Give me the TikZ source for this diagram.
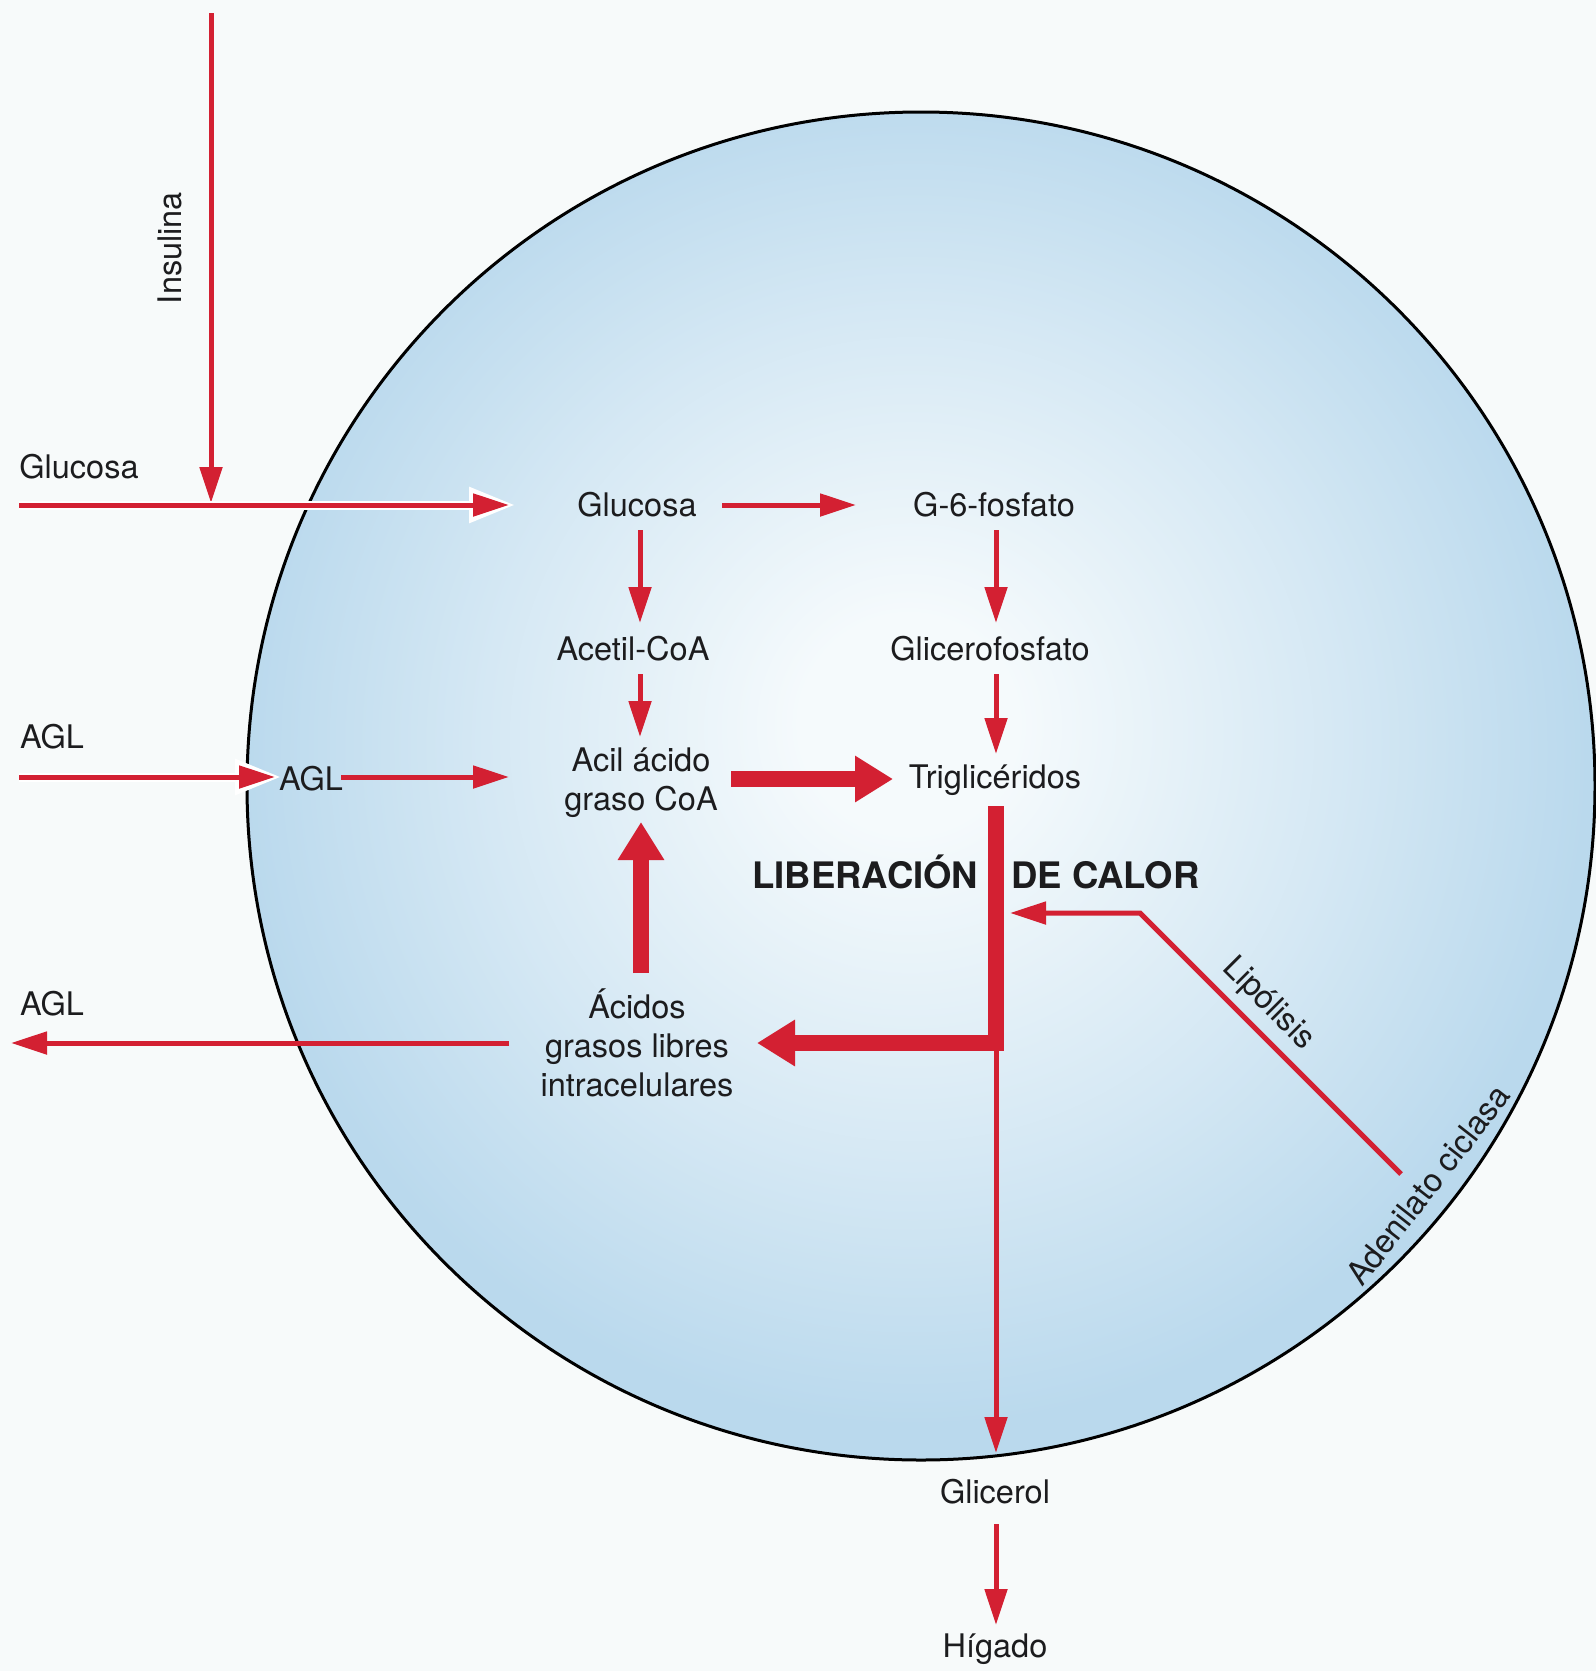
\documentclass[tikz,border=0pt]{standalone}
\usepackage{fontspec}
\setmainfont{TeX Gyre Heros}
\usetikzlibrary{arrows.meta,calc}
\definecolor{bgc}{RGB}{247,250,250}
\definecolor{cellin}{RGB}{245,250,252}
\definecolor{cellout}{RGB}{186,217,237}
\colorlet{cellmid}{cellin!45!cellout}
\definecolor{myred}{RGB}{211,32,50}
\definecolor{txt}{RGB}{28,28,30}
\pgfdeclareradialshading{cellshade}{\pgfpoint{-0.5bp}{2.5bp}}{color(0bp)=(cellin); color(4bp)=(cellin); color(16bp)=(cellmid); color(25bp)=(cellout); color(50bp)=(cellout)}
\begin{document}
\begin{tikzpicture}[x=1pt,y=-1pt,
  lbl/.style={font=\fontsize{32.5}{39}\selectfont, text=txt, inner sep=0pt, align=center},
  boldlbl/.style={font=\fontsize{36.5}{42}\selectfont\bfseries, text=txt, inner sep=0pt},
  arrthin/.style={draw=myred, line width=5pt, -{Triangle[length=36pt,width=22pt]}},
  arrthick/.style={draw=myred, line width=16pt, line join=miter, -{Triangle[length=38pt,width=44pt]}},
  halo/.style={preaction={draw=white, line width=9pt, shorten >=-6pt, -{Triangle[length=46pt,width=34pt]}}}
]
\useasboundingbox (0,0) rectangle (1596,1671);
\fill[bgc] (0,0) rectangle (1596,1671);
% cell
\shade[shading=cellshade] (921,786) circle [radius=674pt];
\draw[black, line width=3pt] (921,786) circle [radius=674pt];

% labels
\node[lbl, rotate=90] (ins) at (170,248) {Insulina};
\node[lbl] (glulbl) at (79,467) {Glucosa};
\node[lbl] (aglinlbl) at (52,737) {AGL};
\node[lbl] (agloutlbl) at (52,1004) {AGL};
\node[lbl] (glu) at (637,505) {Glucosa};
\node[lbl] (g6) at (994,505) {G-6-fosfato};
\node[lbl] (acet) at (633,649) {Acetil-CoA};
\node[lbl] (glic) at (990,649) {Glicerofosfato};
\node[lbl] (acil) at (641,783) {Acil ácido\\graso CoA};
\node[lbl] (trig) at (995,780) {Triglicéridos};
\node[lbl] (agl) at (311,779) {AGL};
\node[lbl] (acidos) at (637,1043) {Ácidos\\grasos libres\\intracelulares};
\node[boldlbl] (calor) at (976,872) {LIBERACIÓN\hspace*{33pt}DE CALOR};
\node[lbl, rotate=-45] (lipo) at (1268,1004) {Lipólisis};
\node[lbl, rotate=52] (aden) at (1428,1185) {Adenilato ciclasa};
\node[lbl] (glicerol) at (995,1492) {Glicerol};
\node[lbl] (higado) at (995,1649) {Hígado};

% free ends
\coordinate (insTop) at (211,13);
\coordinate (insEnd) at (211,503);
\coordinate (gluStart) at (19,505);
\coordinate (aglStart) at (19,777);
\coordinate (aglEnd) at (11,1043);
\coordinate (junc) at (996,1043);
\coordinate (adcy) at (1401,1174);
\coordinate (bend) at (1140,913);

% arrows
\draw[arrthin] (insTop) -- (insEnd);
\draw[arrthin, halo] (gluStart) -- ($(glu)+(-128,0)$);
\draw[arrthin] ($(glu)+(85,0)$) -- ($(g6)+(-138,0)$);
\draw[arrthin] ($(glu)+(3,25)$) -- ($(acet)+(7,-26)$);
\draw[arrthin] ($(acet)+(7,25)$) -- ($(acil)+(-1,-46)$);
\draw[arrthin] ($(g6)+(2,25)$) -- ($(glic)+(6,-26)$);
\draw[arrthin] ($(glic)+(6,25)$) -- ($(trig)+(1,-26)$);
\draw[arrthin, halo] (aglStart) -- ($(agl)+(-36,-2)$);
\draw[arrthin] ($(agl)+(30,-2)$) -- ($(acil)+(-132,-6)$);
\draw[arrthick] ($(acil)+(90,-4)$) -- ($(trig)+(-102,-1)$);
\draw[arrthick] ($(acidos)+(4,-70)$) -- ($(acil)+(0,39)$);
\draw[arrthin] (junc) -- ($(glicerol)+(1,-39)$);
\draw[arrthick] ($(trig)+(1,26)$) |- ($(acidos)+(120,0)$);
\draw[arrthin, line join=miter] (adcy) -- (bend) -- ($(junc)+(14,-130)$);
\draw[arrthin] ($(acidos)+(-128,0)$) -- (aglEnd);
\draw[arrthin] ($(glicerol)+(1,32)$) -- ($(higado)+(1,-24)$);
\end{tikzpicture}
\end{document}
